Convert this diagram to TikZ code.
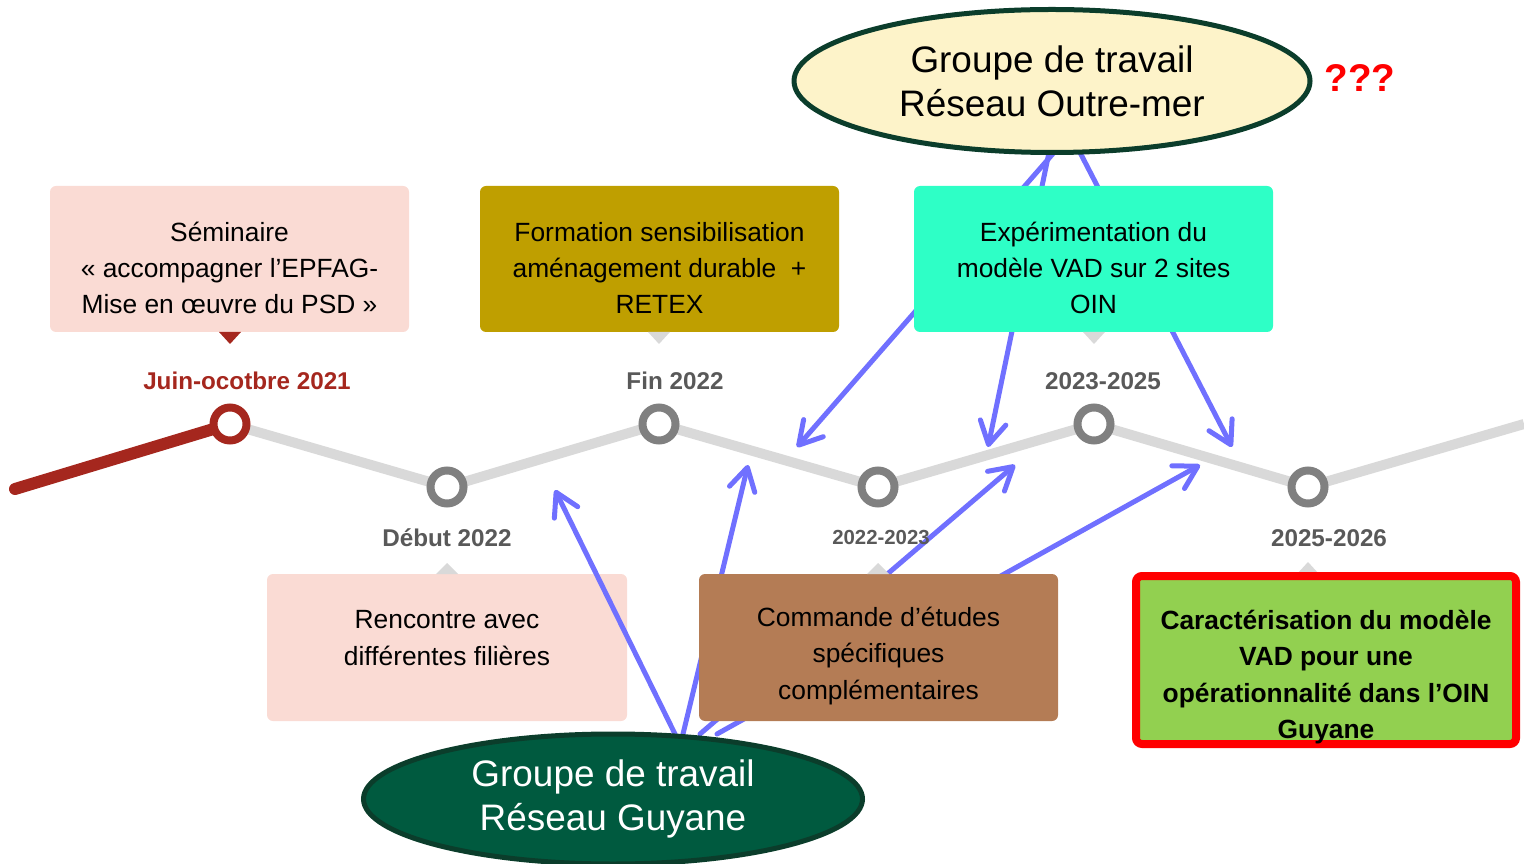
\documentclass[tikz,border=0pt]{standalone}
\usepackage{fontspec}
\setmainfont{Liberation Sans}
\usetikzlibrary{shapes.geometric,arrows.meta,positioning}

\pgfdeclarelayer{bottom}
\pgfdeclarelayer{back}
\pgfsetlayers{bottom,back,main}

\definecolor{tlred}{HTML}{A5271E}
\definecolor{tlgray}{HTML}{D9D9D9}
\definecolor{ringgray}{HTML}{808080}
\definecolor{lblgray}{HTML}{595959}
\definecolor{linkblue}{HTML}{7070FF}
\definecolor{pinkbox}{HTML}{FADBD4}
\definecolor{goldbox}{HTML}{BF9F00}
\definecolor{aquabox}{HTML}{2EFFC6}
\definecolor{brownbox}{HTML}{B47C55}
\definecolor{greenbox}{HTML}{92D050}
\definecolor{creamfill}{HTML}{FDF3C9}
\definecolor{darkedge}{HTML}{0B3D2B}
\definecolor{guyfill}{HTML}{005A3F}

\def\pxu{0.02cm}

\begin{document}
\begin{tikzpicture}[x=\pxu,y=-\pxu]
    \tikzstyle{ring}=[circle,draw=ringgray,fill=white,line width=8*\pxu,minimum size=33*\pxu,inner sep=0pt]
    \tikzstyle{datelbl}=[text=lblgray,font=\bfseries\fontsize{13.8}{16}\selectfont,inner sep=0pt]
    \tikzstyle{card}=[rectangle,rounded corners=0.12cm,inner sep=0pt,outer sep=0pt,minimum width=359*\pxu,minimum height=146*\pxu]
    \tikzstyle{cardtext}=[inner sep=0pt,align=center,font=\fontsize{15}{20.7}\selectfont]
    \tikzstyle{group}=[ellipse,line width=5*\pxu,inner sep=0pt,outer sep=0pt,align=center,font=\fontsize{21}{25}\selectfont]
    \tikzstyle{link}=[linkblue,line width=5*\pxu,line cap=round,-{Straight Barb[length=0.45cm,width=0.52cm,round]}]
    \tikzstyle{tick}=[tlgray]

    \useasboundingbox (0,0) rectangle (1524,864);

    % timeline
    \node[ring,draw=tlred] (J) at (230,424) {};
    \foreach \name/\x/\y in {D/447/487,F/659/424,C/878/487,E/1094/424,K/1308/487}
        \node[ring] (\name) at (\x,\y) {};
    \coordinate (tstart) at (15,489);
    \coordinate (tend) at (1524,424);

    \begin{pgfonlayer}{bottom}
        \draw[tlred,line width=12*\pxu,line cap=round] (tstart) -- (J.center);
        \draw[tlgray,line width=10*\pxu,line join=round] (J.center) -- (D.center) -- (F.center)
            -- (C.center) -- (E.center) -- (K.center) -- (tend);
    \end{pgfonlayer}

    \node[datelbl,text=tlred] (lbl-J) at (247,381) {Juin-ocotbre 2021};
    \foreach \name/\x/\y/\txt in {D/447/538/Début 2022,F/675/381/Fin 2022,E/1103/381/2023-2025,K/1329/538/2025-2026}
        \node[datelbl] (lbl-\name) at (\x,\y) {\txt};
    \node[datelbl,font=\bfseries\fontsize{11.6}{14}\selectfont] (lbl-C) at (881,537) {2022-2023};

    % actions
    \node[card,fill=pinkbox] (sem) at (229.5,259) {};
    \node[cardtext] (sem-txt) at (229.5,268) {Séminaire\\« accompagner l’EPFAG-\\Mise en œuvre du PSD »};
    \node[card,fill=goldbox] (form) at (659.5,259) {};
    \node[cardtext] (form-txt) at (659.5,268) {Formation sensibilisation\\aménagement durable\ \ +\\RETEX};
    \node[card,fill=aquabox] (exp) at (1093.5,259) {};
    \node[cardtext] (exp-txt) at (1093.5,268) {Expérimentation du\\modèle VAD sur 2 sites\\OIN};
    \begin{pgfonlayer}{bottom}
        \node[card,fill=pinkbox,minimum width=360*\pxu,minimum height=147*\pxu] (ren) at (447,647.5) {};
        \node[cardtext] (ren-txt) at (447,638) {Rencontre avec\\différentes filières};
    \end{pgfonlayer}
    \node[card,fill=brownbox,minimum height=147*\pxu] (com) at (878.5,647.5) {};
    \node[cardtext] (com-txt) at (878.5,656) {Commande d’études\\spécifiques\\complémentaires};
    \fill[tick] (K |- 0,574) ++(-11,0) -- ++(22,0) -- ++(-11,-12) -- cycle;
    \node[card,fill=greenbox,draw=red,line width=8*\pxu,minimum width=380*\pxu,minimum height=168*\pxu] (car) at (1326,660) {};
    \node[cardtext,font=\bfseries\fontsize{15}{20.7}\selectfont] (car-txt) at (1326,677)
        {Caractérisation du modèle\\VAD pour une\\opérationnalité dans l’OIN\\Guyane};

    \fill[tlred] (J |- sem.south) ++(-11,0) -- ++(22,0) -- ++(-11,12) -- cycle;
    \fill[tick] (F |- form.south) ++(-11,0) -- ++(22,0) -- ++(-11,12) -- cycle;
    \fill[tick] (E |- exp.south) ++(-11,0) -- ++(22,0) -- ++(-11,12) -- cycle;
    \fill[tick] (D |- ren.north) ++(-11,0) -- ++(22,0) -- ++(-11,-11) -- cycle;
    \fill[tick] (C |- com.north) ++(-11,0) -- ++(22,0) -- ++(-11,-11) -- cycle;

    % working groups
    \node[group,draw=darkedge,fill=creamfill,minimum width=516*\pxu,minimum height=143*\pxu] (otm) at (1052,81)
        {Groupe de travail\\Réseau Outre-mer};
    \node[group,draw=darkedge,fill=guyfill,text=white,minimum width=499*\pxu,minimum height=130*\pxu] (guy) at (613,799)
        {Groupe de travail\\Réseau Guyane};
    \node[text=red,font=\bfseries\fontsize{22}{26}\selectfont] (qq) at (1360,78) {???};

    % links
    \coordinate (t-a1) at (797,447);
    \coordinate (t-a2) at (988,447);
    \coordinate (t-a3) at (1232,447);
    \coordinate (t-b1) at (555,490);
    \coordinate (t-b2) at (748,465);
    \coordinate (t-b3) at (1015,465);
    \coordinate (t-b4) at (1200,465);

    \begin{pgfonlayer}{back}
        \foreach \dx/\dest in {2/a1,-3/a2,28/a3}
            \draw[link] ([xshift=\dx*\pxu]otm.south) -- (t-\dest);
        \foreach \dx/\dest in {62/b1,70/b2,87/b3,104/b4}
            \draw[link] ([xshift=\dx*\pxu]guy.north) -- (t-\dest);
    \end{pgfonlayer}
\end{tikzpicture}
\end{document}
